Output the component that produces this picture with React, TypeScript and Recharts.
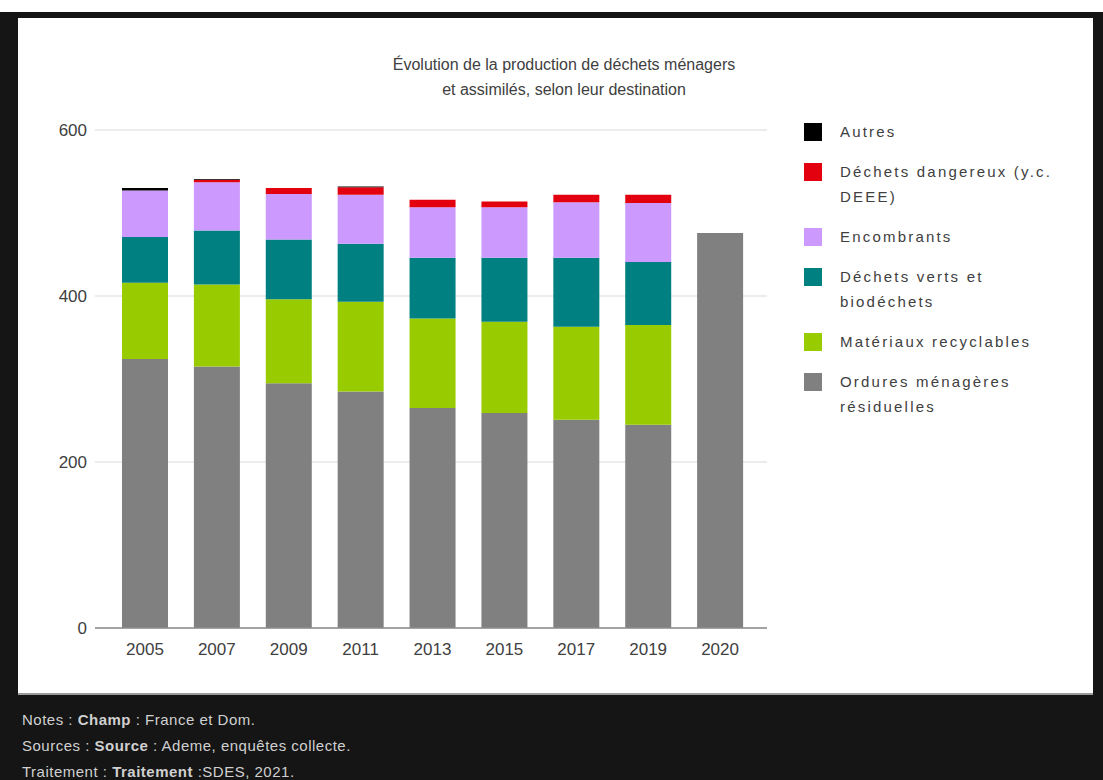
import React from 'react'
import { BarChart, Bar, XAxis, YAxis, CartesianGrid } from 'recharts'

const years = ['2005', '2007', '2009', '2011', '2013', '2015', '2017', '2019', '2020']
const ordures = [324, 315, 295, 285, 265, 259, 251, 245, 476]
const recyclables = [92, 99, 101, 108, 108, 110, 112, 120, null]
const verts = [55, 65, 72, 70, 73, 77, 83, 76, null]
const encombrants = [56, 58, 55, 59, 61, 61, 67, 71, null]
const dangereux = [0, 3, 7, 9, 9, 7, 9, 10, null]
const autres = [3, 1, 0, 1, 0, 0, 0, 0, null]
const yTicks = [0, 200, 400, 600]

// bas de pile -> haut de pile
const series = [
  { key: 'ordures', name: 'Ordures ménagères résiduelles', lines: ['Ordures ménagères', 'résiduelles'], color: '#808080', values: ordures },
  { key: 'recyclables', name: 'Matériaux recyclables', lines: ['Matériaux recyclables'], color: '#99cc00', values: recyclables },
  { key: 'verts', name: 'Déchets verts et biodéchets', lines: ['Déchets verts et', 'biodéchets'], color: '#008080', values: verts },
  { key: 'encombrants', name: 'Encombrants', lines: ['Encombrants'], color: '#cc99ff', values: encombrants },
  { key: 'dangereux', name: 'Déchets dangereux (y.c. DEEE)', lines: ['Déchets dangereux (y.c.', 'DEEE)'], color: '#e3000f', values: dangereux },
  { key: 'autres', name: 'Autres', lines: ['Autres'], color: '#000000', values: autres },
]

const data = years.map((year, i) => {
  const row: Record<string, string | number | null> = { year }
  series.forEach((s) => {
    row[s.key] = s.values[i]
  })
  return row
})

const axisFont = '"Liberation Sans", Arial, sans-serif'

function ChartLegend(): React.ReactElement {
  const items = [...series].reverse()
  return (
    <div style={{ fontFamily: axisFont, fontSize: 15, color: '#404040', letterSpacing: 2.2 }}>
      {items.map((s) => (
        <div key={s.key} style={{ display: 'flex', alignItems: 'flex-start', marginBottom: 16 }}>
          <div style={{ width: 18, height: 18, background: s.color, marginTop: 3, marginRight: 18, flexShrink: 0 }} />
          <div style={{ lineHeight: '25px', marginTop: -1 }}>
            {s.lines.map((l) => (
              <div key={l} style={{ whiteSpace: 'nowrap' }}>{l}</div>
            ))}
          </div>
        </div>
      ))}
    </div>
  )
}

export default function App(): React.ReactElement {
  return (
    <div style={{ position: 'absolute', left: 0, top: 0, width: 1103, height: 780, background: '#ffffff', overflow: 'hidden' }}>
      <div style={{ position: 'absolute', left: 0, top: 12, width: 1103, height: 768, background: '#151515' }} />
      <div style={{ position: 'absolute', left: 18, top: 18, width: 1075, height: 677, background: '#ffffff', borderBottom: '2px solid #9a9a9a', boxSizing: 'border-box' }} />

      <div
        style={{
          position: 'absolute',
          left: 364,
          top: 52,
          width: 400,
          textAlign: 'center',
          fontFamily: '"Liberation Sans Narrow", "Liberation Sans", sans-serif',
          fontSize: 16,
          lineHeight: '25px',
          color: '#404040',
        }}
      >
        Évolution de la production de déchets ménagers
        <br />
        et assimilés, selon leur destination
      </div>

      <div style={{ position: 'absolute', left: 0, top: 0 }}>
        <BarChart
          width={1103}
          height={700}
          data={data}
          margin={{ top: 130, right: 336, bottom: 42, left: 0 }}
        >
          <CartesianGrid vertical={false} stroke="#d9d9d9" />
          <XAxis
            dataKey="year"
            interval={0}
            tickLine={false}
            axisLine={{ stroke: '#8c8c8c', strokeWidth: 1.5 }}
            padding={{ left: 14, right: 11 }}
            tickMargin={9}
            height={30}
            tick={{ fill: '#404040', fontSize: 17, fontFamily: axisFont }}
          />
          <YAxis
            width={95}
            domain={[0, 600]}
            ticks={yTicks}
            axisLine={false}
            tickLine={false}
            tick={{ fill: '#404040', fontSize: 17, fontFamily: axisFont }}
          />
          {series.map((s) => (
            <Bar
              key={s.key}
              dataKey={s.key}
              name={s.name}
              stackId="a"
              fill={s.color}
              barSize={46}
              isAnimationActive={false}
            />
          ))}
        </BarChart>
      </div>

      <div style={{ position: 'absolute', left: 804, top: 120 }}>
        <ChartLegend />
      </div>

      <div
        style={{
          position: 'absolute',
          left: 22,
          top: 707,
          fontFamily: axisFont,
          fontSize: 15,
          letterSpacing: 0.5,
          lineHeight: '26px',
          color: '#d0d0d0',
        }}
      >
        <div>Notes : <b>Champ</b> : France et Dom.</div>
        <div>Sources : <b>Source</b> : Ademe, enquêtes collecte.</div>
        <div>Traitement : <b>Traitement</b> :SDES, 2021.</div>
      </div>
    </div>
  )
}
